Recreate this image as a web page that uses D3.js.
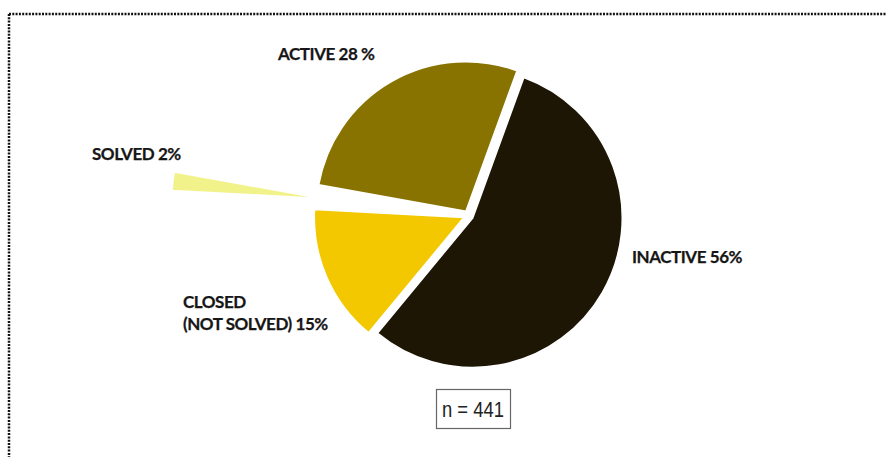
<!DOCTYPE html>
<html>
<head>
<meta charset="utf-8">
<script src="https://cdn.jsdelivr.net/npm/d3@7/dist/d3.min.js"></script>
<style>
  html, body { margin: 0; padding: 0; background: #fff; }
  svg { display: block; }
  .lbl { font-family: Lato, "Open Sans", sans-serif; font-weight: 700; font-size: 17px; letter-spacing: -0.45px; fill: #161616; stroke: #161616; stroke-width: 0.25px; }
  .nlbl { font-family: "Liberation Sans Narrow", "Arial Narrow", "Liberation Sans", sans-serif; font-size: 22px; fill: #222; }
</style>
</head>
<body>
<div id="chart"></div>
<script>
// Case status breakdown
const categories = ["INACTIVE", "CLOSED (NOT SOLVED)", "SOLVED", "ACTIVE"];
const shares     = [56, 15, 2, 28];
const labelLines = [["INACTIVE 56%"], ["CLOSED", "(NOT SOLVED) 15%"], ["SOLVED 2%"], ["ACTIVE 28 %"]];
const sampleSize = 441;

const colors  = ["#1d1604", "#f3c800", "#f2f28a", "#887300"];
const explode = [5, 5, 148, 5];

const W = 886, H = 457;
const cx = 468.4, cy = 215.5, R = 149.5;
const startDeg = 20;

const svg = d3.select("#chart").append("svg")
  .attr("width", W).attr("height", H);

// dotted frame (top and left edges)
svg.append("line")
  .attr("x1", 9).attr("y1", 14).attr("x2", W).attr("y2", 14)
  .attr("stroke", "#111").attr("stroke-width", 2.5).attr("stroke-dasharray", "2,1.3");
svg.append("line")
  .attr("x1", 9).attr("y1", 14).attr("x2", 9).attr("y2", H)
  .attr("stroke", "#111").attr("stroke-width", 2.5).attr("stroke-dasharray", "2,1.3");

const pie = d3.pie()
  .sort(null)
  .value(d => d)
  .startAngle(startDeg * Math.PI / 180)
  .endAngle(startDeg * Math.PI / 180 + 2 * Math.PI);

const arc = d3.arc().innerRadius(0).outerRadius(R);
const arcs = pie(shares);

const g = svg.append("g").attr("transform", `translate(${cx},${cy})`);

g.selectAll("path.slice")
  .data(arcs)
  .join("path")
  .attr("class", "slice")
  .attr("d", arc)
  .attr("fill", (d, i) => colors[i])
  .attr("stroke", "#fff")
  .attr("stroke-width", 1.5)
  .attr("stroke-linejoin", "round")
  .attr("transform", (d, i) => {
    const a = (d.startAngle + d.endAngle) / 2;
    return `translate(${explode[i] * Math.sin(a)},${-explode[i] * Math.cos(a)})`;
  });

// slice labels
const labelPos = [
  { x: 632, y: 263 },
  { x: 183, y: 308 },
  { x: 92,  y: 160 },
  { x: 278, y: 60 }
];
const lineGap = 22;

svg.selectAll("text.lbl")
  .data(categories)
  .join("text")
  .attr("class", "lbl")
  .attr("x", (d, i) => labelPos[i].x)
  .attr("y", (d, i) => labelPos[i].y)
  .each(function (d, i) {
    d3.select(this).selectAll("tspan")
      .data(labelLines[i])
      .join("tspan")
      .attr("x", labelPos[i].x)
      .attr("dy", (t, j) => j === 0 ? 0 : lineGap)
      .text(t => t);
  });

// sample size box
const nBox = { x: 436, y: 389, w: 74, h: 39 };
svg.append("rect")
  .attr("x", nBox.x + 0.5).attr("y", nBox.y + 0.5)
  .attr("width", nBox.w).attr("height", nBox.h)
  .attr("fill", "#fff").attr("stroke", "#666").attr("stroke-width", 1.2);
svg.append("text")
  .attr("class", "nlbl")
  .attr("x", nBox.x + 6)
  .attr("y", nBox.y + 28)
  .attr("textLength", 62)
  .attr("lengthAdjust", "spacingAndGlyphs")
  .text(`n = ${sampleSize}`);
</script>
</body>
</html>
